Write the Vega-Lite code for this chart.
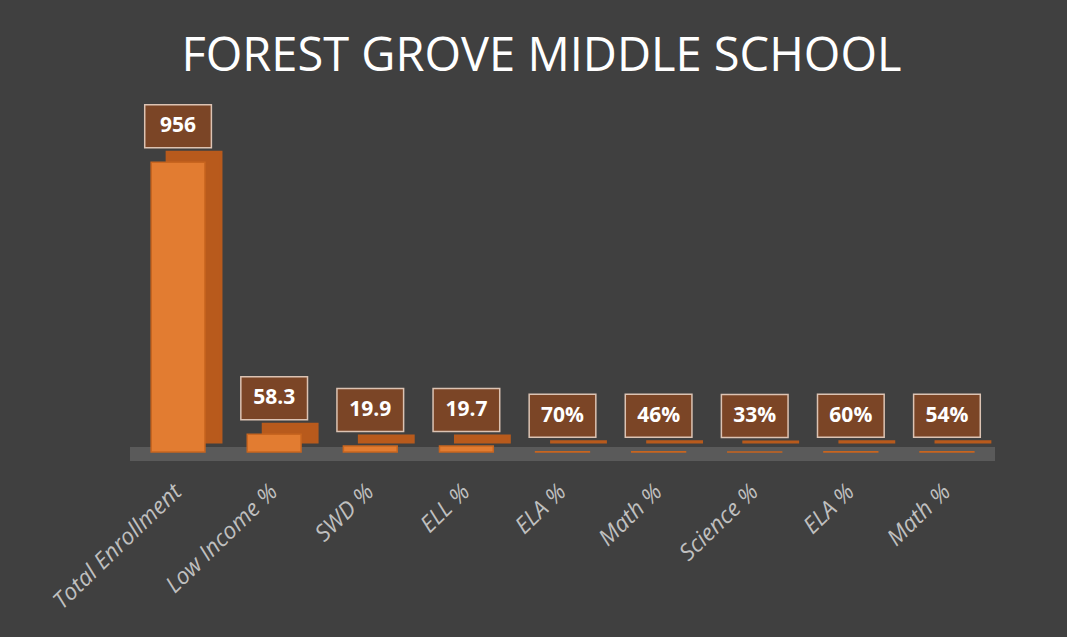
{
  "$schema": "https://vega.github.io/schema/vega-lite/v6.json",
  "autosize": {"type": "none"},
  "width": 865,
  "height": 303,
  "padding": {"left": 130, "top": 149, "right": 72, "bottom": 185},
  "background": "#404040",
  "config": {"view": {"stroke": null}},
  "title": {
    "text": "FOREST GROVE MIDDLE SCHOOL",
    "font": "Open Sans",
    "fontSize": 47,
    "fontWeight": "normal",
    "color": "#ffffff",
    "anchor": "middle",
    "dx": -21,
    "offset": 21
  },
  "data": {
    "values": [
      {"cat": "Total Enrollment|1", "value": 956, "label": "956"},
      {"cat": "Low Income %|2", "value": 58.3, "label": "58.3"},
      {"cat": "SWD %|3", "value": 19.9, "label": "19.9"},
      {"cat": "ELL %|4", "value": 19.7, "label": "19.7"},
      {"cat": "ELA %|5", "value": 0.70, "label": "70%"},
      {"cat": "Math %|6", "value": 0.46, "label": "46%"},
      {"cat": "Science %|7", "value": 0.33, "label": "33%"},
      {"cat": "ELA %|8", "value": 0.60, "label": "60%"},
      {"cat": "Math %|9", "value": 0.54, "label": "54%"}
    ]
  },
  "encoding": {
    "x": {
      "field": "cat",
      "type": "nominal",
      "sort": null,
      "scale": {"paddingInner": 0.44, "paddingOuter": 0.22},
      "axis": {
        "title": null,
        "domain": false,
        "ticks": false,
        "labelAngle": -44,
        "labelAlign": "right",
        "labelBaseline": "middle",
        "labelPadding": 36,
        "labelFont": "Open Sans",
        "labelFontSize": 23,
        "labelFontStyle": "italic",
        "labelColor": "#bfbfbf",
        "labelExpr": "split(datum.label, '|')[0]"
      }
    },
    "y": {
      "field": "value",
      "type": "quantitative",
      "scale": {"domain": [0, 1000]},
      "axis": null
    }
  },
  "layer": [
    {
      "mark": {"type": "rule", "color": "#5a5a5a", "strokeWidth": 14, "yOffset": 2},
      "encoding": {"y": {"datum": 0}, "x": null}
    },
    {
      "mark": {"type": "bar", "color": "#b85a1c", "xOffset": 16, "yOffset": -10, "stroke": "#b85a1c", "strokeWidth": 3}
    },
    {
      "mark": {"type": "bar", "color": "#e27c31", "stroke": "#c8651f", "strokeWidth": 1.5}
    },
    {
      "mark": {
        "type": "point",
        "shape": "M-1.55,-1L1.55,-1L1.55,1L-1.55,1Z",
        "size": 1850,
        "filled": true,
        "fill": "#7b4526",
        "fillOpacity": 1,
        "stroke": "#dcc3b3",
        "strokeWidth": 1.5,
        "yOffset": -36
      }
    },
    {
      "mark": {
        "type": "text",
        "font": "Open Sans",
        "fontSize": 21,
        "fontWeight": "bold",
        "color": "#ffffff",
        "align": "center",
        "baseline": "middle",
        "yOffset": -36
      },
      "encoding": {"text": {"field": "label"}}
    }
  ]
}
